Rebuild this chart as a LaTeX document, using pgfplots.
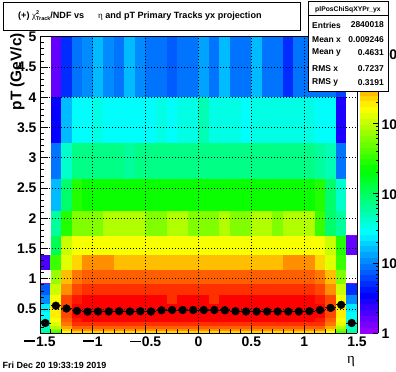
\documentclass[border=0pt]{standalone}
\usepackage{pgfplots}
\pgfplotsset{compat=1.18}
\usepackage{fontspec}
\setmainfont{Liberation Sans}
\newfontfamily\serif{Liberation Serif}
\newcommand\mn{\raisebox{4.2bp}{\rule{10.5bp}{1.8bp}}\kern1.2bp}
\pgfplotsset{
  colormap={rootpal}{
    rgb255=(146,0,255) rgb255=(122,0,255) rgb255=(99,0,255) rgb255=(75,0,255) rgb255=(51,0,255)
    rgb255=(27,0,255) rgb255=(3,0,255) rgb255=(0,20,255) rgb255=(0,44,255) rgb255=(0,68,255)
    rgb255=(0,92,255) rgb255=(0,116,255) rgb255=(0,139,255) rgb255=(0,163,255) rgb255=(0,187,255)
    rgb255=(0,211,255) rgb255=(0,235,255) rgb255=(0,255,252) rgb255=(0,255,228) rgb255=(0,255,204)
    rgb255=(0,255,180) rgb255=(0,255,156) rgb255=(0,255,133) rgb255=(0,255,109) rgb255=(0,255,85)
    rgb255=(0,255,61) rgb255=(0,255,37) rgb255=(0,255,14) rgb255=(10,255,0) rgb255=(34,255,0)
    rgb255=(58,255,0) rgb255=(82,255,0) rgb255=(105,255,0) rgb255=(129,255,0) rgb255=(153,255,0)
    rgb255=(177,255,0) rgb255=(201,255,0) rgb255=(224,255,0) rgb255=(248,255,0) rgb255=(255,238,0)
    rgb255=(255,214,0) rgb255=(255,190,0) rgb255=(255,167,0) rgb255=(255,143,0) rgb255=(255,119,0)
    rgb255=(255,95,0) rgb255=(255,71,0) rgb255=(255,48,0) rgb255=(255,24,0) rgb255=(255,0,0)
    rgb255=(255,0,0)
  }
}
\begin{document}
\begin{tikzpicture}[x=1bp,y=1bp]
\begin{axis}[
  at={(40bp,38.7bp)}, anchor=south west,
  view={0}{90},
  scale only axis, width=317bp, height=296.6bp,
  xmin=-1.5, xmax=1.5, ymin=0.1, ymax=5, zmin=-1, zmax=1,
  ztick=\empty,
  colormap name=rootpal,
  colormap access=piecewise constant,
  point meta min=-0.5, point meta max=49.5,
  xtick={-1.5,-1,-0.5,0,0.5,1,1.5},
  xticklabels={\mn1.5,\mn1,\mn0.5,0,0.5,1,1.5},
  ytick={0.5,1,1.5,2,2.5,3,3.5,4,4.5,5},
  yticklabels={0.5,1,1.5,2,2.5,3,3.5,4,4.5,5},
  minor xtick={-1.4,-1.3,-1.2,-1.1,-0.9,-0.8,-0.7,-0.6,-0.4,-0.3,-0.2,-0.1,0.1,0.2,0.3,0.4,0.6,0.7,0.8,0.9,1.1,1.2,1.3,1.4},
  minor ytick={0.2,0.3,0.4,0.6,0.7,0.8,0.9,1.1,1.2,1.3,1.4,1.6,1.7,1.8,1.9,2.1,2.2,2.3,2.4,2.6,2.7,2.8,2.9,3.1,3.2,3.3,3.4,3.6,3.7,3.8,3.9,4.1,4.2,4.3,4.4,4.6,4.7,4.8,4.9},
  tick pos=left, tick align=inside,
  major tick length=8bp, minor tick length=4bp,
  tick style={black, line width=0.8bp},
  grid=major,
  major grid style={black, line width=0.8bp, dash pattern=on 0.9bp off 2.1bp},
  axis line style={black, line width=1bp},
  axis on top,
  tick label style={font=\fontsize{14}{14}\selectfont\bfseries},
  colorbar,
  colorbar style={
    at={(parent axis.north east)}, anchor=north west, xshift=-5.9bp,
    scale only axis, width=18.5bp,
    axis y line*=right, axis x line=none,
    ytick={-0.5,11.3,23.1,34.9,46.7},
    yticklabels={1,10,10\textsuperscript{2},10\textsuperscript{3},10\textsuperscript{4}},
    minor ytick={3.05,5.13,6.60,7.75,8.68,9.47,10.16,10.76,14.85,16.93,18.40,19.55,20.48,21.27,21.96,22.56,26.65,28.73,30.20,31.35,32.28,33.07,33.76,34.36,38.45,40.53,42.00,43.15,44.08,44.87,45.56,46.16},
    tick align=inside, major tick length=5bp, minor tick length=2.5bp,
    tick style={black, line width=0.8bp},
    axis line style={black, line width=0.8bp},
    yticklabel style={font=\fontsize{14}{14}\selectfont\bfseries},
  },
]
\addplot3[surf, shader=flat corner, mesh/cols=31, point meta=explicit]
 table[row sep=\\, header=false, x index=0, y index=1, z expr=0, meta index=2] {
-1.5 0.1 23\\ -1.4 0.1 27\\ -1.3 0.1 33\\ -1.2 0.1 35\\ -1.1 0.1 35\\ -1 0.1 35\\ -0.9 0.1 35\\ -0.8 0.1 35\\ -0.7 0.1 35\\ -0.6 0.1 35\\ -0.5 0.1 35\\ -0.4 0.1 35\\ -0.3 0.1 35\\ -0.2 0.1 35\\ -0.1 0.1 35\\ 0 0.1 35\\ 0.1 0.1 35\\ 0.2 0.1 35\\ 0.3 0.1 35\\ 0.4 0.1 35\\ 0.5 0.1 35\\ 0.6 0.1 35\\ 0.7 0.1 35\\ 0.8 0.1 35\\ 0.9 0.1 35\\ 1 0.1 35\\ 1.1 0.1 35\\ 1.2 0.1 33\\ 1.3 0.1 27\\ 1.4 0.1 23\\ 1.5 0.1 0\\
-1.5 0.124 21\\ -1.4 0.124 30\\ -1.3 0.124 37\\ -1.2 0.124 39\\ -1.1 0.124 39\\ -1 0.124 39\\ -0.9 0.124 39\\ -0.8 0.124 39\\ -0.7 0.124 39\\ -0.6 0.124 39\\ -0.5 0.124 39\\ -0.4 0.124 39\\ -0.3 0.124 39\\ -0.2 0.124 39\\ -0.1 0.124 39\\ 0 0.124 39\\ 0.1 0.124 39\\ 0.2 0.124 39\\ 0.3 0.124 39\\ 0.4 0.124 39\\ 0.5 0.124 39\\ 0.6 0.124 39\\ 0.7 0.124 39\\ 0.8 0.124 39\\ 0.9 0.124 39\\ 1 0.124 39\\ 1.1 0.124 39\\ 1.2 0.124 37\\ 1.3 0.124 30\\ 1.4 0.124 21\\ 1.5 0.124 0\\
-1.5 0.154 20\\ -1.4 0.154 32\\ -1.3 0.154 39\\ -1.2 0.154 42\\ -1.1 0.154 42\\ -1 0.154 42\\ -0.9 0.154 42\\ -0.8 0.154 42\\ -0.7 0.154 42\\ -0.6 0.154 42\\ -0.5 0.154 42\\ -0.4 0.154 42\\ -0.3 0.154 42\\ -0.2 0.154 42\\ -0.1 0.154 42\\ 0 0.154 42\\ 0.1 0.154 42\\ 0.2 0.154 42\\ 0.3 0.154 42\\ 0.4 0.154 42\\ 0.5 0.154 42\\ 0.6 0.154 42\\ 0.7 0.154 42\\ 0.8 0.154 42\\ 0.9 0.154 42\\ 1 0.154 42\\ 1.1 0.154 42\\ 1.2 0.154 39\\ 1.3 0.154 32\\ 1.4 0.154 20\\ 1.5 0.154 0\\
-1.5 0.192 19\\ -1.4 0.192 34\\ -1.3 0.192 41\\ -1.2 0.192 44\\ -1.1 0.192 44\\ -1 0.192 44\\ -0.9 0.192 44\\ -0.8 0.192 44\\ -0.7 0.192 44\\ -0.6 0.192 44\\ -0.5 0.192 44\\ -0.4 0.192 44\\ -0.3 0.192 44\\ -0.2 0.192 44\\ -0.1 0.192 44\\ 0 0.192 44\\ 0.1 0.192 44\\ 0.2 0.192 44\\ 0.3 0.192 44\\ 0.4 0.192 44\\ 0.5 0.192 44\\ 0.6 0.192 44\\ 0.7 0.192 44\\ 0.8 0.192 44\\ 0.9 0.192 44\\ 1 0.192 44\\ 1.1 0.192 44\\ 1.2 0.192 41\\ 1.3 0.192 34\\ 1.4 0.192 19\\ 1.5 0.192 0\\
-1.5 0.238 18\\ -1.4 0.238 36\\ -1.3 0.238 43\\ -1.2 0.238 46\\ -1.1 0.238 46\\ -1 0.238 46\\ -0.9 0.238 46\\ -0.8 0.238 46\\ -0.7 0.238 46\\ -0.6 0.238 46\\ -0.5 0.238 46\\ -0.4 0.238 46\\ -0.3 0.238 46\\ -0.2 0.238 46\\ -0.1 0.238 46\\ 0 0.238 46\\ 0.1 0.238 46\\ 0.2 0.238 46\\ 0.3 0.238 46\\ 0.4 0.238 46\\ 0.5 0.238 46\\ 0.6 0.238 46\\ 0.7 0.238 46\\ 0.8 0.238 46\\ 0.9 0.238 46\\ 1 0.238 46\\ 1.1 0.238 46\\ 1.2 0.238 43\\ 1.3 0.238 36\\ 1.4 0.238 18\\ 1.5 0.238 0\\
-1.5 0.296 18\\ -1.4 0.296 37\\ -1.3 0.296 44\\ -1.2 0.296 47\\ -1.1 0.296 48\\ -1 0.296 48\\ -0.9 0.296 48\\ -0.8 0.296 48\\ -0.7 0.296 48\\ -0.6 0.296 48\\ -0.5 0.296 48\\ -0.4 0.296 48\\ -0.3 0.296 48\\ -0.2 0.296 48\\ -0.1 0.296 48\\ 0 0.296 48\\ 0.1 0.296 48\\ 0.2 0.296 48\\ 0.3 0.296 48\\ 0.4 0.296 48\\ 0.5 0.296 48\\ 0.6 0.296 48\\ 0.7 0.296 48\\ 0.8 0.296 48\\ 0.9 0.296 48\\ 1 0.296 48\\ 1.1 0.296 47\\ 1.2 0.296 44\\ 1.3 0.296 37\\ 1.4 0.296 18\\ 1.5 0.296 0\\
-1.5 0.368 17\\ -1.4 0.368 38\\ -1.3 0.368 45\\ -1.2 0.368 48\\ -1.1 0.368 49\\ -1 0.368 49\\ -0.9 0.368 49\\ -0.8 0.368 49\\ -0.7 0.368 49\\ -0.6 0.368 49\\ -0.5 0.368 49\\ -0.4 0.368 49\\ -0.3 0.368 49\\ -0.2 0.368 49\\ -0.1 0.368 49\\ 0 0.368 49\\ 0.1 0.368 49\\ 0.2 0.368 49\\ 0.3 0.368 49\\ 0.4 0.368 49\\ 0.5 0.368 49\\ 0.6 0.368 49\\ 0.7 0.368 49\\ 0.8 0.368 49\\ 0.9 0.368 49\\ 1 0.368 49\\ 1.1 0.368 48\\ 1.2 0.368 45\\ 1.3 0.368 38\\ 1.4 0.368 17\\ 1.5 0.368 0\\
-1.5 0.47 16\\ -1.4 0.47 38\\ -1.3 0.47 45\\ -1.2 0.47 48\\ -1.1 0.47 49\\ -1 0.47 49\\ -0.9 0.47 49\\ -0.8 0.47 49\\ -0.7 0.47 49\\ -0.6 0.47 49\\ -0.5 0.47 49\\ -0.4 0.47 49\\ -0.3 0.47 49\\ -0.2 0.47 49\\ -0.1 0.47 49\\ 0 0.47 49\\ 0.1 0.47 49\\ 0.2 0.47 49\\ 0.3 0.47 49\\ 0.4 0.47 49\\ 0.5 0.47 49\\ 0.6 0.47 49\\ 0.7 0.47 49\\ 0.8 0.47 49\\ 0.9 0.47 49\\ 1 0.47 49\\ 1.1 0.47 48\\ 1.2 0.47 45\\ 1.3 0.47 38\\ 1.4 0.47 16\\ 1.5 0.47 0\\
-1.5 0.6 12\\ -1.4 0.6 37\\ -1.3 0.6 45\\ -1.2 0.6 47\\ -1.1 0.6 48\\ -1 0.6 48\\ -0.9 0.6 48\\ -0.8 0.6 48\\ -0.7 0.6 48\\ -0.6 0.6 48\\ -0.5 0.6 48\\ -0.4 0.6 48\\ -0.3 0.6 46\\ -0.2 0.6 48\\ -0.1 0.6 48\\ 0 0.6 48\\ 0.1 0.6 46\\ 0.2 0.6 48\\ 0.3 0.6 48\\ 0.4 0.6 48\\ 0.5 0.6 48\\ 0.6 0.6 48\\ 0.7 0.6 48\\ 0.8 0.6 48\\ 0.9 0.6 48\\ 1 0.6 48\\ 1.1 0.6 47\\ 1.2 0.6 45\\ 1.3 0.6 37\\ 1.4 0.6 12\\ 1.5 0.6 0\\
-1.5 0.75 10\\ -1.4 0.75 35\\ -1.3 0.75 42\\ -1.2 0.75 45\\ -1.1 0.75 46\\ -1 0.75 46\\ -0.9 0.75 46\\ -0.8 0.75 46\\ -0.7 0.75 46\\ -0.6 0.75 46\\ -0.5 0.75 46\\ -0.4 0.75 46\\ -0.3 0.75 46\\ -0.2 0.75 46\\ -0.1 0.75 46\\ 0 0.75 46\\ 0.1 0.75 46\\ 0.2 0.75 46\\ 0.3 0.75 46\\ 0.4 0.75 46\\ 0.5 0.75 46\\ 0.6 0.75 46\\ 0.7 0.75 46\\ 0.8 0.75 46\\ 0.9 0.75 46\\ 1 0.75 46\\ 1.1 0.75 45\\ 1.2 0.75 42\\ 1.3 0.75 35\\ 1.4 0.75 8\\ 1.5 0.75 0\\
-1.5 0.934 0\\ -1.4 0.934 33\\ -1.3 0.934 40\\ -1.2 0.934 43\\ -1.1 0.934 44\\ -1 0.934 44\\ -0.9 0.934 44\\ -0.8 0.934 44\\ -0.7 0.934 44\\ -0.6 0.934 44\\ -0.5 0.934 44\\ -0.4 0.934 44\\ -0.3 0.934 44\\ -0.2 0.934 44\\ -0.1 0.934 44\\ 0 0.934 44\\ 0.1 0.934 44\\ 0.2 0.934 44\\ 0.3 0.934 44\\ 0.4 0.934 44\\ 0.5 0.934 44\\ 0.6 0.934 44\\ 0.7 0.934 44\\ 0.8 0.934 44\\ 0.9 0.934 44\\ 1 0.934 44\\ 1.1 0.934 43\\ 1.2 0.934 40\\ 1.3 0.934 32\\ 1.4 0.934 0\\ 1.5 0.934 0\\
-1.5 1.153 3\\ -1.4 1.153 29\\ -1.3 1.153 36\\ -1.2 1.153 39\\ -1.1 1.153 42\\ -1 1.153 42\\ -0.9 1.153 42\\ -0.8 1.153 40\\ -0.7 1.153 40\\ -0.6 1.153 40\\ -0.5 1.153 40\\ -0.4 1.153 40\\ -0.3 1.153 40\\ -0.2 1.153 40\\ -0.1 1.153 40\\ 0 1.153 40\\ 0.1 1.153 40\\ 0.2 1.153 40\\ 0.3 1.153 40\\ 0.4 1.153 40\\ 0.5 1.153 40\\ 0.6 1.153 40\\ 0.7 1.153 40\\ 0.8 1.153 42\\ 0.9 1.153 42\\ 1 1.153 42\\ 1.1 1.153 39\\ 1.2 1.153 36\\ 1.3 1.153 29\\ 1.4 1.153 0\\ 1.5 1.153 0\\
-1.5 1.4 0\\ -1.4 1.4 24\\ -1.3 1.4 35\\ -1.2 1.4 37\\ -1.1 1.4 37\\ -1 1.4 37\\ -0.9 1.4 37\\ -0.8 1.4 37\\ -0.7 1.4 37\\ -0.6 1.4 37\\ -0.5 1.4 37\\ -0.4 1.4 37\\ -0.3 1.4 37\\ -0.2 1.4 37\\ -0.1 1.4 37\\ 0 1.4 37\\ 0.1 1.4 37\\ 0.2 1.4 37\\ 0.3 1.4 37\\ 0.4 1.4 37\\ 0.5 1.4 37\\ 0.6 1.4 37\\ 0.7 1.4 37\\ 0.8 1.4 37\\ 0.9 1.4 37\\ 1 1.4 37\\ 1.1 1.4 37\\ 1.2 1.4 35\\ 1.3 1.4 28\\ 1.4 1.4 2\\ 1.5 1.4 0\\
-1.5 1.72 0\\ -1.4 1.72 21\\ -1.3 1.72 28\\ -1.2 1.72 32\\ -1.1 1.72 32\\ -1 1.72 32\\ -0.9 1.72 34\\ -0.8 1.72 34\\ -0.7 1.72 34\\ -0.6 1.72 34\\ -0.5 1.72 32\\ -0.4 1.72 32\\ -0.3 1.72 34\\ -0.2 1.72 34\\ -0.1 1.72 32\\ 0 1.72 32\\ 0.1 1.72 32\\ 0.2 1.72 34\\ 0.3 1.72 32\\ 0.4 1.72 32\\ 0.5 1.72 34\\ 0.6 1.72 34\\ 0.7 1.72 32\\ 0.8 1.72 34\\ 0.9 1.72 34\\ 1 1.72 34\\ 1.1 1.72 29\\ 1.2 1.72 23\\ 1.3 1.72 21\\ 1.4 1.72 0\\ 1.5 1.72 0\\
-1.5 2.137 0\\ -1.4 2.137 14\\ -1.3 2.137 23\\ -1.2 2.137 28\\ -1.1 2.137 27\\ -1 2.137 27\\ -0.9 2.137 27\\ -0.8 2.137 27\\ -0.7 2.137 27\\ -0.6 2.137 27\\ -0.5 2.137 27\\ -0.4 2.137 27\\ -0.3 2.137 27\\ -0.2 2.137 27\\ -0.1 2.137 27\\ 0 2.137 27\\ 0.1 2.137 27\\ 0.2 2.137 27\\ 0.3 2.137 27\\ 0.4 2.137 27\\ 0.5 2.137 27\\ 0.6 2.137 27\\ 0.7 2.137 27\\ 0.8 2.137 27\\ 0.9 2.137 27\\ 1 2.137 27\\ 1.1 2.137 28\\ 1.2 2.137 23\\ 1.3 2.137 19\\ 1.4 2.137 0\\ 1.5 2.137 0\\
-1.5 2.66 0\\ -1.4 2.66 11\\ -1.3 2.66 19\\ -1.2 2.66 22\\ -1.1 2.66 22\\ -1 2.66 22\\ -0.9 2.66 22\\ -0.8 2.66 22\\ -0.7 2.66 21\\ -0.6 2.66 22\\ -0.5 2.66 22\\ -0.4 2.66 22\\ -0.3 2.66 22\\ -0.2 2.66 22\\ -0.1 2.66 22\\ 0 2.66 22\\ 0.1 2.66 22\\ 0.2 2.66 22\\ 0.3 2.66 22\\ 0.4 2.66 22\\ 0.5 2.66 22\\ 0.6 2.66 22\\ 0.7 2.66 22\\ 0.8 2.66 22\\ 0.9 2.66 22\\ 1 2.66 22\\ 1.1 2.66 21\\ 1.2 2.66 20\\ 1.3 2.66 11\\ 1.4 2.66 0\\ 1.5 2.66 0\\
-1.5 3.264 0\\ -1.4 3.264 6\\ -1.3 3.264 14\\ -1.2 3.264 17\\ -1.1 3.264 17\\ -1 3.264 18\\ -0.9 3.264 17\\ -0.8 3.264 17\\ -0.7 3.264 17\\ -0.6 3.264 17\\ -0.5 3.264 17\\ -0.4 3.264 18\\ -0.3 3.264 17\\ -0.2 3.264 18\\ -0.1 3.264 18\\ 0 3.264 20\\ 0.1 3.264 18\\ 0.2 3.264 18\\ 0.3 3.264 18\\ 0.4 3.264 17\\ 0.5 3.264 18\\ 0.6 3.264 18\\ 0.7 3.264 18\\ 0.8 3.264 18\\ 0.9 3.264 18\\ 1 3.264 18\\ 1.1 3.264 17\\ 1.2 3.264 17\\ 1.3 3.264 5\\ 1.4 3.264 0\\ 1.5 3.264 0\\
-1.5 4.02 0\\ -1.4 4.02 2\\ -1.3 4.02 8\\ -1.2 4.02 11\\ -1.1 4.02 12\\ -1 4.02 14\\ -0.9 4.02 12\\ -0.8 4.02 11\\ -0.7 4.02 14\\ -0.6 4.02 12\\ -0.5 4.02 11\\ -0.4 4.02 11\\ -0.3 4.02 10\\ -0.2 4.02 11\\ -0.1 4.02 11\\ 0 4.02 13\\ 0.1 4.02 11\\ 0.2 4.02 14\\ 0.3 4.02 11\\ 0.4 4.02 11\\ 0.5 4.02 14\\ 0.6 4.02 11\\ 0.7 4.02 11\\ 0.8 4.02 8\\ 0.9 4.02 11\\ 1 4.02 11\\ 1.1 4.02 11\\ 1.2 4.02 11\\ 1.3 4.02 9\\ 1.4 4.02 0\\ 1.5 4.02 0\\
-1.5 5 0\\ -1.4 5 0\\ -1.3 5 0\\ -1.2 5 0\\ -1.1 5 0\\ -1 5 0\\ -0.9 5 0\\ -0.8 5 0\\ -0.7 5 0\\ -0.6 5 0\\ -0.5 5 0\\ -0.4 5 0\\ -0.3 5 0\\ -0.2 5 0\\ -0.1 5 0\\ 0 5 0\\ 0.1 5 0\\ 0.2 5 0\\ 0.3 5 0\\ 0.4 5 0\\ 0.5 5 0\\ 0.6 5 0\\ 0.7 5 0\\ 0.8 5 0\\ 0.9 5 0\\ 1 5 0\\ 1.1 5 0\\ 1.2 5 0\\ 1.3 5 0\\ 1.4 5 0\\ 1.5 5 0\\
};
% empty (white) bins
\addplot3[fill=white, draw=none, forget plot] coordinates {(-1.5,1.4,0) (-1.4,1.4,0) (-1.4,5,0) (-1.5,5,0)} -- cycle;
\addplot3[fill=white, draw=none, forget plot] coordinates {(-1.5,0.934,0) (-1.4,0.934,0) (-1.4,1.153,0) (-1.5,1.153,0)} -- cycle;
\addplot3[fill=white, draw=none, forget plot] coordinates {(1.4,1.72,0) (1.5,1.72,0) (1.5,5,0) (1.4,5,0)} -- cycle;
\addplot3[fill=white, draw=none, forget plot] coordinates {(1.4,0.934,0) (1.5,0.934,0) (1.5,1.4,0) (1.4,1.4,0)} -- cycle;
% profile
\addplot3[only marks, mark=*, mark size=3.9bp, black, mark options={fill=black},
  error bars/.cd, x dir=both, x fixed=0.05, error mark=none,
  error bar style={black, line width=0.9bp}]
 coordinates {
(-1.45,0.27,0) (-1.35,0.556,0) (-1.25,0.51,0) (-1.15,0.47,0) (-1.05,0.457,0)
(-0.95,0.46,0) (-0.85,0.46,0) (-0.75,0.465,0) (-0.65,0.46,0) (-0.55,0.465,0)
(-0.45,0.46,0) (-0.35,0.48,0) (-0.25,0.485,0) (-0.15,0.485,0) (-0.05,0.485,0)
(0.05,0.485,0) (0.15,0.485,0) (0.25,0.48,0) (0.35,0.465,0) (0.45,0.46,0)
(0.55,0.46,0) (0.65,0.46,0) (0.75,0.46,0) (0.85,0.46,0) (0.95,0.46,0)
(1.05,0.465,0) (1.15,0.485,0) (1.25,0.52,0) (1.35,0.57,0) (1.45,0.27,0)
};
\end{axis}
% title box
\draw[black, line width=0.8bp, fill=white] (3,342) rectangle (300,370);
\node[anchor=west, inner sep=0, font=\fontsize{9.1}{10}\selectfont\bfseries] at (18,356.5)
 {(+) {\serif\mdseries χ}\rlap{\raisebox{3.6bp}{\fontsize{5.5}{6}\selectfont 2}}\raisebox{-2.2bp}{\fontsize{5.5}{6}\selectfont Track}/NDF vs\hspace{14bp}{\serif\mdseries η} and pT Primary Tracks yx projection};
% stats box
\draw[black, line width=0.8bp, fill=white] (308,281) rectangle (388,371);
\draw[black, line width=0.8bp] (308,357) -- (388,357);
\node[font=\fontsize{6.8}{8}\selectfont\bfseries] at (348,362.5) {plPosChiSqXYPr\_yx};
\begin{scope}[every node/.style={font=\fontsize{8.5}{9}\selectfont\bfseries, inner sep=0}]
\node[anchor=west] at (312,347) {Entries}; \node[anchor=east] at (384,347) {2840018};
\node[anchor=west] at (312,332) {Mean x}; \node[anchor=east] at (384,332) {0.009246};
\node[anchor=west] at (312,319.3) {Mean y}; \node[anchor=east] at (384,319.3) {0.4631};
\node[anchor=west] at (312,303.7) {RMS x}; \node[anchor=east] at (384,303.7) {0.7237};
\node[anchor=west] at (312,289.3) {RMS y}; \node[anchor=east] at (384,289.3) {0.3191};
\end{scope}
% axis titles
\node[rotate=90, anchor=east, inner sep=0, font=\fontsize{15.5}{16}\selectfont\bfseries] at (17.5,339) {pT (GeV/c)};
\node[inner sep=0, font=\serif\fontsize{15}{16}\selectfont] at (351,10) {η};
\node[anchor=west, inner sep=0, font=\fontsize{9}{10}\selectfont\bfseries] at (2.5,7) {Fri Dec 20 19:33:19 2019};
\pgfresetboundingbox
\useasboundingbox (0,0) rectangle (396,372);
\end{tikzpicture}
\end{document}
